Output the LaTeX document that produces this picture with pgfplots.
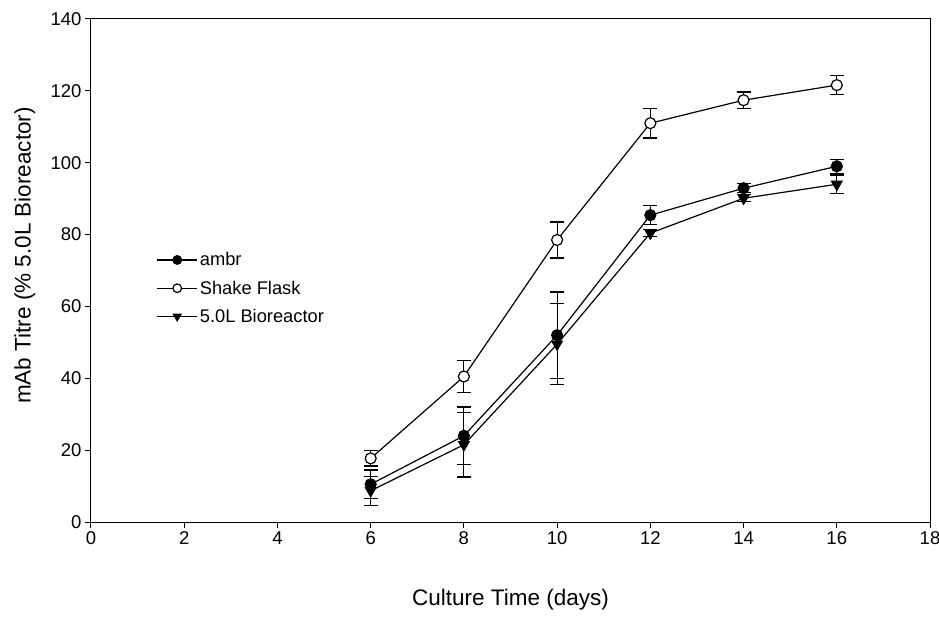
\documentclass[border=0pt]{standalone}
\usepackage{pgfplots}
\pgfplotsset{compat=1.18}
\usepackage{fontspec}
\setmainfont{Liberation Sans}
\begin{document}
\begin{tikzpicture}
\begin{axis}[
    name=ax,
    scale only axis,
    width=839pt, height=503pt,
    xmin=0, xmax=18, ymin=0, ymax=140,
    xtick={0,2,...,18}, ytick={0,20,...,140},
    tick align=outside, tick pos=left,
    major tick length=6pt,
    axis line style={line width=1pt},
    every tick/.style={black,line width=1pt},
    /pgf/number format/assume math mode=true,
    tick label style={font=\fontsize{18.5}{22}\selectfont},
    label style={font=\fontsize{22.5}{27}\selectfont},
    xlabel={Culture Time (days)},
    ylabel={mAb Titre (\% 5.0L Bioreactor)},
    xlabel style={at={(axis description cs:0.5,-0.155)},anchor=center},
    ylabel style={at={(axis description cs:-0.079,0.53)},anchor=center},
    legend style={draw=none,fill=none,inner sep=0pt,
        at={(axis description cs:0.078,0.54)},anchor=north west,
        font=\fontsize{18.3}{22}\selectfont,row sep=9.5pt},
    legend cell align=left,
    legend image code/.code={\draw[mark repeat=2,mark phase=2,#1,line width=1.2pt,mark size=4.3pt] plot coordinates {(0pt,0pt) (20pt,0pt) (40pt,0pt)};},
    error bars/error bar style={line width=1.2pt},
    error bars/error mark options={rotate=90,mark size=7pt,line width=1.2pt},
]
\addplot[black,line width=1.2pt,mark=*,mark size=5.5pt,mark options={fill=black,solid},
    error bars/.cd,y dir=both,y explicit]
 coordinates {
  (6,10.5) +- (0,4)
  (8,24) +- (0,8)
  (10,52) +- (0,12)
  (12,85.4) +- (0,2.6)
  (14,92.9) +- (0,1.3)
  (16,99) +- (0,2)
 };
\addlegendentry{ambr}
\addplot[black,line width=1.2pt,mark=*,mark size=5.5pt,mark options={fill=white,solid},
    error bars/.cd,y dir=both,y explicit]
 coordinates {
  (6,17.7) +- (0,2.1)
  (8,40.5) +- (0,4.4)
  (10,78.5) +- (0,5)
  (12,111) +- (0,4.1)
  (14,117.4) +- (0,2.3)
  (16,121.6) +- (0,2.7)
 };
\addlegendentry{Shake Flask}
\addplot[black,line width=1.2pt,mark=triangle*,mark size=6pt,mark options={fill=black,solid,rotate=180},
    error bars/.cd,y dir=both,y explicit]
 coordinates {
  (6,8.7) +- (0,4)
  (8,21.5) +- (0,9)
  (10,49.5) +- (0,11.3)
  (12,80.4) +- (0,1)
  (14,90.1) +- (0,1)
  (16,94) +- (0,2.6)
 };
\addlegendentry{5.0L Bioreactor}
\end{axis}
\pgfresetboundingbox
\path ([shift={(-91pt,-100pt)}]ax.south west) rectangle ([shift={(9pt,19pt)}]ax.north east);
\end{tikzpicture}
\end{document}
